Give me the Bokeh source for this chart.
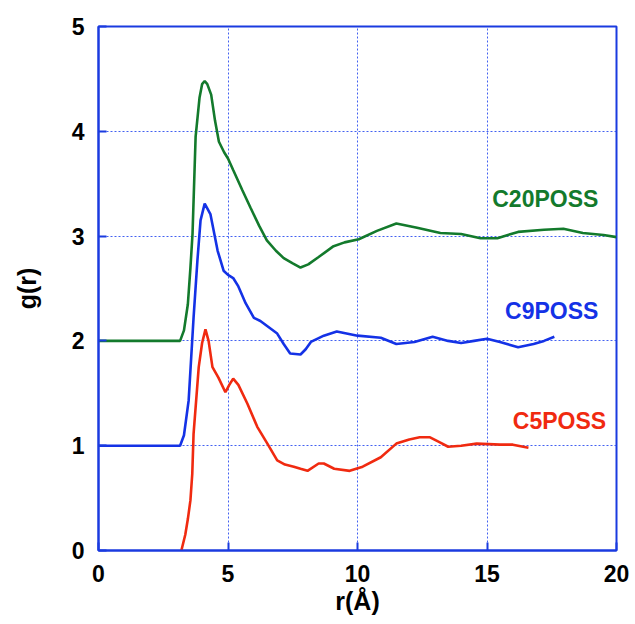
from bokeh.plotting import figure
from bokeh.models import Label, Range1d, FixedTicker
from bokeh.embed import file_html
from bokeh.resources import INLINE

# C20POSS (shifted +2)
r_c20 = [0, 3.15, 3.3, 3.45, 3.55, 3.63, 3.75, 3.9, 4.0, 4.1, 4.2, 4.35, 4.5, 4.65, 4.85, 5.0, 5.2,
         5.55, 5.87, 6.2, 6.5, 6.85, 7.15, 7.5, 7.8, 8.1, 8.5, 9.05, 9.5, 10.05, 10.75, 11.5, 12.3,
         13.2, 14.0, 14.75, 15.4, 16.2, 17.2, 17.95, 18.7, 19.5, 20.0]
g_c20 = [2.0, 2.0, 2.1, 2.35, 2.7, 3.02, 3.95, 4.32, 4.45, 4.48, 4.45, 4.35, 4.1, 3.9, 3.8, 3.74, 3.63,
         3.44, 3.27, 3.1, 2.96, 2.86, 2.79, 2.74, 2.70, 2.73, 2.8, 2.9, 2.94, 2.97, 3.05, 3.12, 3.08,
         3.03, 3.02, 2.98, 2.98, 3.04, 3.06, 3.07, 3.03, 3.01, 2.99]

# C9POSS (shifted +1)
r_c9 = [0, 3.15, 3.3, 3.48, 3.67, 3.82, 3.94, 4.1, 4.32, 4.6, 4.83, 5.0, 5.2, 5.4, 5.68, 6.0, 6.25,
        6.9, 7.15, 7.4, 7.8, 8.0, 8.2, 8.7, 9.2, 10.0, 10.9, 11.5, 12.2, 12.9, 13.5, 14.0, 14.5,
        15.0, 15.5, 16.2, 16.8, 17.2, 17.6]
g_c9 = [1.0, 1.0, 1.1, 1.43, 2.22, 2.77, 3.15, 3.31, 3.21, 2.86, 2.67, 2.63, 2.6, 2.52, 2.36, 2.22, 2.19,
        2.07, 1.97, 1.88, 1.87, 1.92, 1.99, 2.05, 2.09, 2.05, 2.03, 1.97, 1.99, 2.04, 2.0, 1.98, 2.0,
        2.02, 1.99, 1.94, 1.97, 2.0, 2.04]

# C5POSS
r_c5 = [3.2, 3.35, 3.45, 3.55, 3.62, 3.67, 3.87, 4.0, 4.13, 4.25, 4.4, 4.63, 4.9, 5.05, 5.2, 5.4, 5.75,
        6.13, 6.52, 6.9, 7.2, 7.54, 7.8, 8.07, 8.5, 8.7, 9.1, 9.7, 10.2, 10.9, 11.5, 12.0, 12.4, 12.8,
        13.2, 13.5, 14.0, 14.6, 15.5, 16.0, 16.6]
g_c5 = [0.0, 0.15, 0.3, 0.48, 0.73, 1.11, 1.75, 1.98, 2.11, 2.0, 1.75, 1.65, 1.51, 1.58, 1.64, 1.58, 1.40,
        1.18, 1.02, 0.86, 0.82, 0.80, 0.78, 0.76, 0.83, 0.83, 0.78, 0.76, 0.80, 0.89, 1.02, 1.06, 1.08, 1.08,
        1.03, 0.99, 1.0, 1.02, 1.01, 1.01, 0.98]

x_ticks = [0, 5, 10, 15, 20]
y_ticks = [0, 1, 2, 3, 4, 5]

GREEN = "#137a2c"
BLUE = "#1432e6"
RED = "#f02a10"
FRAME = "#1a3be0"
FONT = "Liberation Sans"

p = figure(width=635, height=624, output_backend="svg", toolbar_location=None,
           x_range=Range1d(0, 20), y_range=Range1d(0, 5),
           min_border_left=98, min_border_right=19, min_border_top=26, min_border_bottom=74)

p.line(r_c20, g_c20, line_color=GREEN, line_width=2.6)
p.line(r_c9, g_c9, line_color=BLUE, line_width=2.6)
p.line(r_c5, g_c5, line_color=RED, line_width=2.6)

for ax in (p.xaxis[0], p.yaxis[0]):
    ax.axis_line_color = FRAME
    ax.axis_line_width = 2
    ax.major_tick_line_color = FRAME
    ax.major_tick_line_width = 2
    ax.major_tick_in = 8
    ax.major_tick_out = 0
    ax.minor_tick_line_color = None
    ax.major_label_text_font = FONT
    ax.major_label_text_font_style = "bold"
    ax.major_label_text_font_size = "23px"
    ax.major_label_text_color = "black"
    ax.axis_label_text_font = FONT
    ax.axis_label_text_font_style = "bold"
    ax.axis_label_text_font_size = "25px"
    ax.axis_label_text_color = "black"

p.xaxis[0].ticker = FixedTicker(ticks=x_ticks)
p.yaxis[0].ticker = FixedTicker(ticks=y_ticks)
p.xaxis[0].axis_label = "r(Å)"
p.yaxis[0].axis_label = "g(r)"
p.xaxis[0].major_label_standoff = 14
p.yaxis[0].major_label_standoff = 14
p.xaxis[0].axis_label_standoff = 2
p.yaxis[0].axis_label_standoff = 28

p.outline_line_color = FRAME
p.outline_line_width = 2

p.xgrid.ticker = FixedTicker(ticks=x_ticks)
p.ygrid.ticker = FixedTicker(ticks=y_ticks)
for g in (p.xgrid[0], p.ygrid[0]):
    g.grid_line_color = "#2f50f0"
    g.grid_line_width = 1
    g.grid_line_dash = "2 2"
    g.grid_line_alpha = 0.9

label_x = [19.3, 19.3, 19.6]
label_y = [3.35, 2.29, 1.24]
label_text = ["C20POSS", "C9POSS", "C5POSS"]
label_color = [GREEN, BLUE, RED]
for lx, ly, lt, lc in zip(label_x, label_y, label_text, label_color):
    p.add_layout(Label(x=lx, y=ly, text=lt, text_color=lc, text_font=FONT, text_font_style="bold",
                       text_font_size="23px", text_align="right", text_baseline="middle"))

p.background_fill_color = "white"
p.border_fill_color = "white"

open("out.html", "w").write(file_html(p, INLINE))
